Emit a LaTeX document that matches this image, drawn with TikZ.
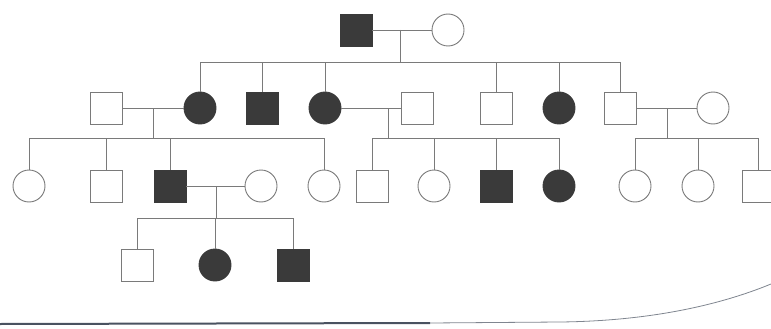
\documentclass[tikz,border=0pt]{standalone}
\begin{document}
\begin{tikzpicture}[x=1pt,y=-1pt,
  male/.style={draw=linegray, rectangle, minimum size=32pt, inner sep=0pt, line width=0.9pt},
  female/.style={draw=linegray, circle, minimum size=32pt, inner sep=0pt, line width=0.9pt},
  aff/.style={fill=affcol, draw=affcol},
  link/.style={draw=linegray, line width=0.8pt}]
\definecolor{linegray}{HTML}{7A7A7A}
\definecolor{affcol}{HTML}{3A3A3A}
\definecolor{edgecol}{HTML}{4A5260}
\useasboundingbox (0,0) rectangle (771,329);
\fill[white] (0,0) rectangle (771,329);
% Generation I
\node[male,aff] (I1) at (356,30) {};
\node[female] (I2) at (448,30) {};
% Generation II
\node[male] (II1) at (106,108) {};
\node[female,aff] (II2) at (200,108) {};
\node[male,aff] (II3) at (262,108) {};
\node[female,aff] (II4) at (325,108) {};
\node[male] (II5) at (417,108) {};
\node[male] (II6) at (496,108) {};
\node[female,aff] (II7) at (559,108) {};
\node[male] (II8) at (620,108) {};
\node[female] (II9) at (713,108) {};
% Generation III
\node[female] (III1) at (29,186) {};
\node[male] (III2) at (106,186) {};
\node[male,aff] (III3) at (170,186) {};
\node[female] (III4) at (261,186) {};
\node[female] (III5) at (324,186) {};
\node[male] (III6) at (372,186) {};
\node[female] (III7) at (434,186) {};
\node[male,aff] (III8) at (496,186) {};
\node[female,aff] (III9) at (559,186) {};
\node[female] (III10) at (635,186) {};
\node[female] (III11) at (698,186) {};
\node[male] (III12) at (758,186) {};
% Generation IV
\node[male] (IV1) at (137,265) {};
\node[female,aff] (IV2) at (215,265) {};
\node[male,aff] (IV3) at (293,265) {};
% coordinates for marriages and sibships
\coordinate (m1) at (400,30);  \coordinate (s1) at (400,62);
\coordinate (m2) at (153,108); \coordinate (s2) at (153,138);
\coordinate (m3) at (388,108); \coordinate (s3) at (388,138);
\coordinate (m4) at (667,108); \coordinate (s4) at (667,138);
\coordinate (m5) at (216,186); \coordinate (s5) at (216,218);
% family 1
\draw[link] (I1) -- (I2);
\draw[link] (m1) -- (s1);
\draw[link] (II2.north |- s1) -- (II8.north |- s1);
\foreach \c in {II2,II3,II4,II6,II7,II8} \draw[link] (\c.north) -- (\c.north |- s1);
% family 2
\draw[link] (II1) -- (II2);
\draw[link] (m2) -- (s2);
\draw[link] (III1.north |- s2) -- (III5.north |- s2);
\foreach \c in {III1,III2,III3,III5} \draw[link] (\c.north) -- (\c.north |- s2);
% family 3
\draw[link] (II4) -- (II5);
\draw[link] (m3) -- (s3);
\draw[link] (III6.north |- s3) -- (III9.north |- s3);
\foreach \c in {III6,III7,III8,III9} \draw[link] (\c.north) -- (\c.north |- s3);
% family 4
\draw[link] (II8) -- (II9);
\draw[link] (m4) -- (s4);
\draw[link] (III10.north |- s4) -- (III12.north |- s4);
\foreach \c in {III10,III11,III12} \draw[link] (\c.north) -- (\c.north |- s4);
% family 5
\draw[link] (III3) -- (III4);
\draw[link] (m5) -- (s5);
\draw[link] (IV1.north |- s5) -- (IV3.north |- s5);
\foreach \c in {IV1,IV2,IV3} \draw[link] (\c.north) -- (\c.north |- s5);
% page edge
\draw[edgecol, line width=2pt] (0,324) -- (430,323);
\draw[edgecol!70, line width=0.8pt] (430,323) -- (560,322) .. controls (650,321) and (720,305) .. (771,284);
\end{tikzpicture}
\end{document}
